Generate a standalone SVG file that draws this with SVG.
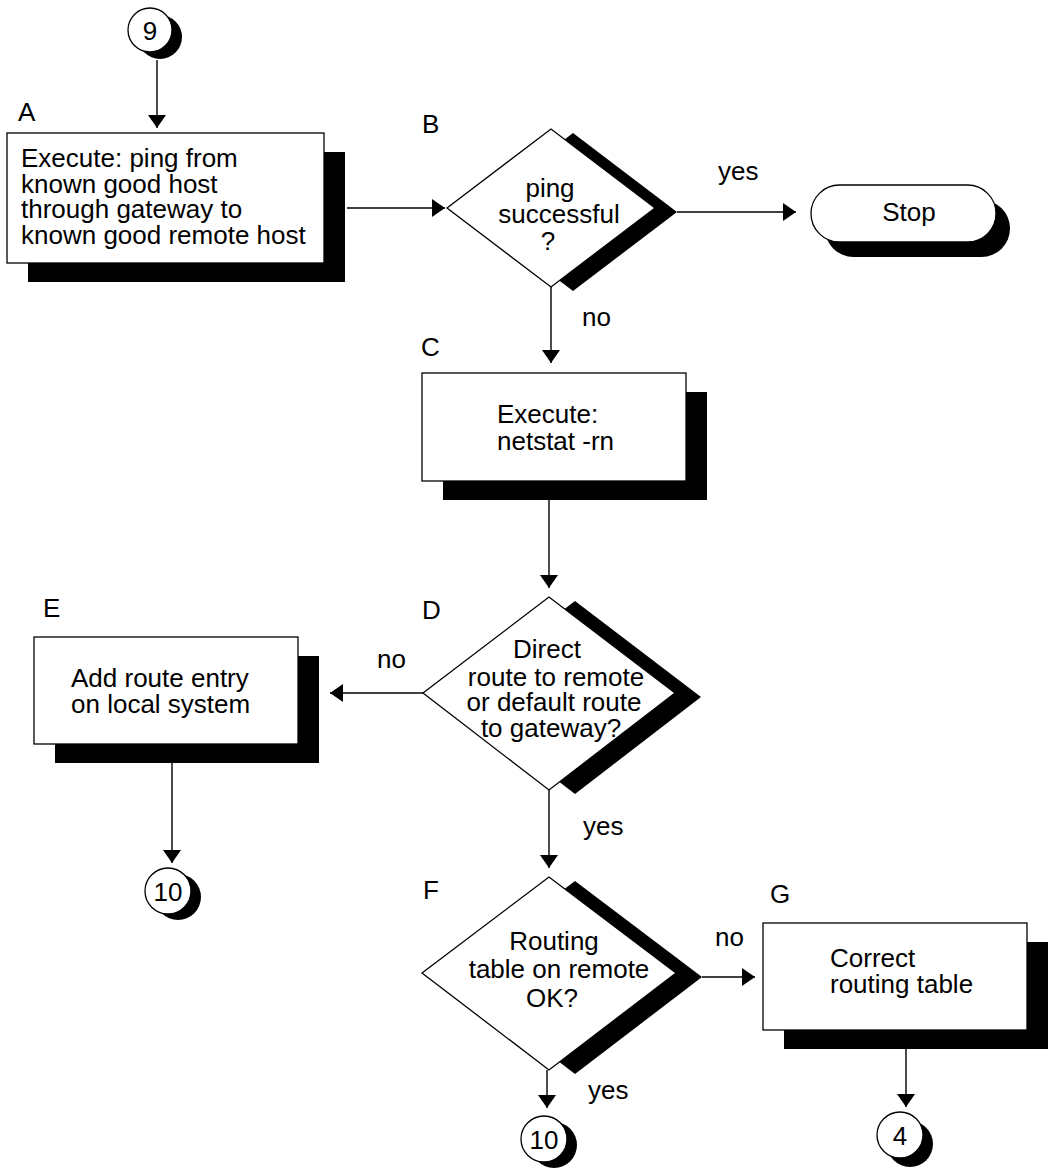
<svg xmlns="http://www.w3.org/2000/svg" width="1049" height="1170" viewBox="0 0 1049 1170">
  <style>
    text { font-family: "Liberation Sans", Arial, sans-serif; font-size: 26px; fill: #000; }
    .mid { text-anchor: middle; }
    .box { fill: #fff; stroke: #000; stroke-width: 1.3; }
    .shadow { fill: #000; stroke: none; }
    .conn line { stroke: #000; stroke-width: 1.4; marker-end: url(#arrow); }
  </style>
  <defs>
    <marker id="arrow" viewBox="0 0 13 18" refX="13" refY="9" markerWidth="13" markerHeight="18" markerUnits="userSpaceOnUse" orient="auto">
      <path d="M0,0 L13,9 L0,18 Z" fill="#000"/>
    </marker>
  </defs>

  <rect width="1049" height="1170" fill="#fff"/>

  <!-- connectors -->
  <g id="connectors" class="conn">
    <line x1="157" y1="60" x2="157" y2="128"/>
    <line x1="347" y1="208" x2="445" y2="208"/>
    <line x1="677" y1="212" x2="796" y2="212"/>
    <line x1="551" y1="287" x2="551" y2="363"/>
    <line x1="549" y1="500" x2="549" y2="588"/>
    <line x1="423" y1="693" x2="330" y2="693"/>
    <line x1="549" y1="790" x2="549" y2="868"/>
    <line x1="172" y1="763" x2="172" y2="863"/>
    <line x1="547" y1="1070" x2="547" y2="1108"/>
    <line x1="702" y1="977" x2="755" y2="977"/>
    <line x1="906" y1="1049" x2="906" y2="1107"/>
  </g>

  <!-- branch labels -->
  <g id="edge-labels">
    <text x="718" y="180">yes</text>
    <text x="582" y="326">no</text>
    <text x="377" y="668">no</text>
    <text x="583" y="835">yes</text>
    <text x="715" y="946">no</text>
    <text x="588" y="1099">yes</text>
  </g>

  <!-- off-page connector 9 -->
  <g id="conn-9">
    <circle class="shadow" cx="160" cy="37" r="22"/>
    <circle class="box" cx="150" cy="30" r="22"/>
    <text class="mid" x="150" y="40">9</text>
  </g>

  <!-- A: ping test -->
  <g id="node-a">
    <text x="18" y="121">A</text>
    <rect class="shadow" x="28" y="152" width="317" height="130"/>
    <rect class="box" x="7" y="133" width="317" height="130"/>
    <text x="21" y="167">Execute: ping from</text>
    <text x="21" y="193">known good host</text>
    <text x="21" y="218">through gateway to</text>
    <text x="21" y="244">known good remote host</text>
  </g>

  <!-- B: ping successful? -->
  <g id="node-b">
    <text x="422" y="133">B</text>
    <polygon class="shadow" points="469,212 573,133 677,212 573,291"/>
    <polygon class="box" points="447,208 551,129 655,208 551,287"/>
    <text class="mid" x="550" y="197">ping</text>
    <text class="mid" x="559" y="223">successful</text>
    <text class="mid" x="548" y="250">?</text>
  </g>

  <!-- Stop terminal -->
  <g id="node-stop">
    <rect class="shadow" x="825" y="200" width="185" height="57" rx="28.5"/>
    <rect class="box" x="811" y="185" width="185" height="57" rx="28.5"/>
    <text class="mid" x="909" y="221">Stop</text>
  </g>

  <!-- C: netstat -->
  <g id="node-c">
    <text x="421" y="356">C</text>
    <rect class="shadow" x="443" y="392" width="264" height="108"/>
    <rect class="box" x="422" y="373" width="264" height="108"/>
    <text x="497" y="423">Execute:</text>
    <text x="497" y="450">netstat -rn</text>
  </g>

  <!-- D: route check -->
  <g id="node-d">
    <text x="422" y="619">D</text>
    <polygon class="shadow" points="449,697 575,601 701,697 575,794"/>
    <polygon class="box" points="423,693 549,597 675,693 549,790"/>
    <text class="mid" x="547" y="658">Direct</text>
    <text class="mid" x="556" y="686">route to remote</text>
    <text class="mid" x="554" y="711">or default route</text>
    <text class="mid" x="551" y="737">to gateway?</text>
  </g>

  <!-- E: add route -->
  <g id="node-e">
    <text x="43" y="617">E</text>
    <rect class="shadow" x="55" y="656" width="264" height="107"/>
    <rect class="box" x="34" y="637" width="264" height="107"/>
    <text x="71" y="687">Add route entry</text>
    <text x="71" y="713">on local system</text>
  </g>

  <!-- off-page connector 10 (left) -->
  <g id="conn-10a">
    <circle class="shadow" cx="178" cy="897" r="23"/>
    <circle class="box" cx="168" cy="891" r="23"/>
    <text class="mid" x="168" y="901">10</text>
  </g>

  <!-- F: remote routing table -->
  <g id="node-f">
    <text x="423" y="899">F</text>
    <polygon class="shadow" points="448,977 575,881 702,977 575,1074"/>
    <polygon class="box" points="422,973 549,877 676,973 549,1070"/>
    <text class="mid" x="554" y="950">Routing</text>
    <text class="mid" x="559" y="978">table on remote</text>
    <text class="mid" x="552" y="1007">OK?</text>
  </g>

  <!-- G: correct table -->
  <g id="node-g">
    <text x="770" y="903">G</text>
    <rect class="shadow" x="784" y="942" width="264" height="107"/>
    <rect class="box" x="763" y="923" width="264" height="107"/>
    <text x="830" y="967">Correct</text>
    <text x="830" y="993">routing table</text>
  </g>

  <!-- off-page connector 10 (bottom) -->
  <g id="conn-10b">
    <circle class="shadow" cx="554" cy="1145" r="23"/>
    <circle class="box" cx="544" cy="1139" r="23"/>
    <text class="mid" x="544" y="1149">10</text>
  </g>

  <!-- off-page connector 4 -->
  <g id="conn-4">
    <circle class="shadow" cx="910" cy="1144" r="23"/>
    <circle class="box" cx="900" cy="1135" r="23"/>
    <text class="mid" x="900" y="1145">4</text>
  </g>
</svg>
